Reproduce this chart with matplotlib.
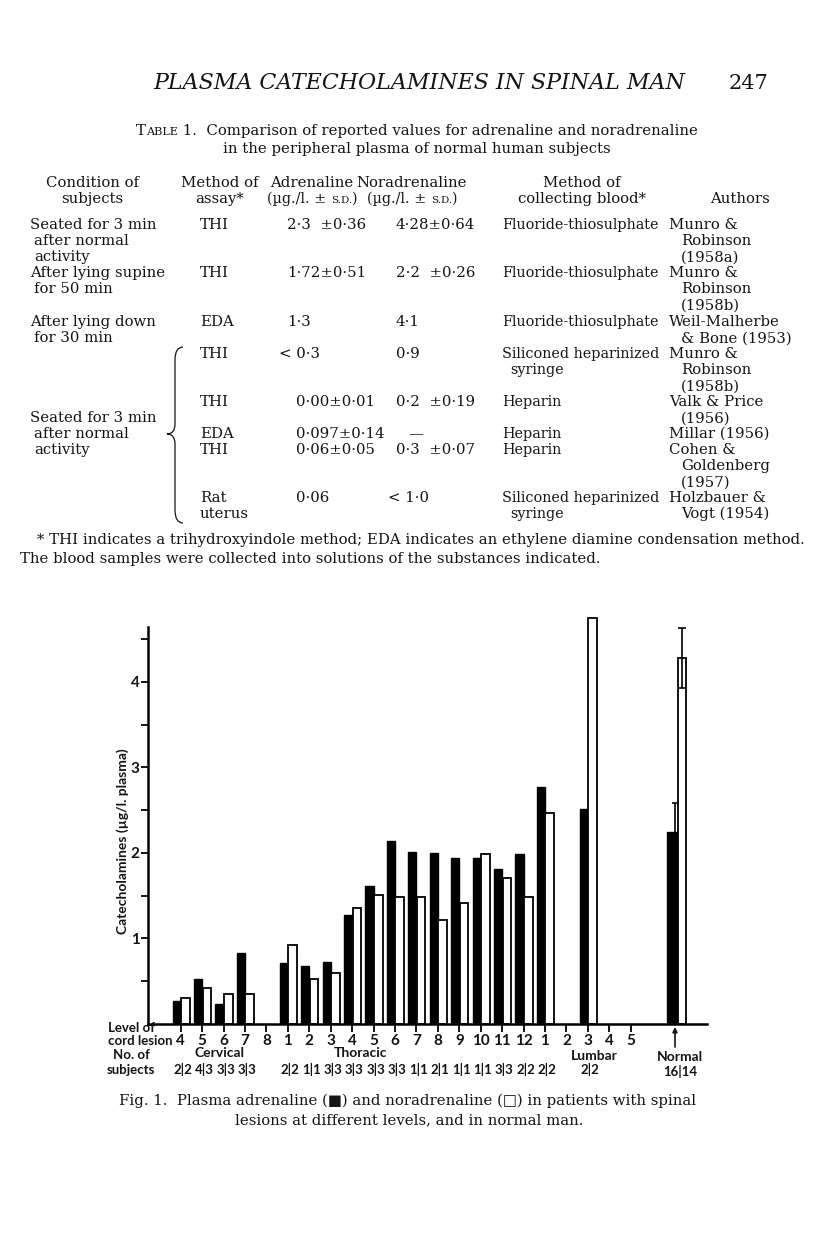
import numpy as np
import matplotlib
matplotlib.use('Agg')
import matplotlib.pyplot as plt
import matplotlib.transforms as mtransforms
from matplotlib.path import Path
from matplotlib.patches import PathPatch

# ---- Fig. 1 data (ug/l plasma) ----
level_labels = ['4', '5', '6', '7', '8',
                '1', '2', '3', '4', '5', '6', '7', '8', '9', '10', '11', '12',
                '1', '2', '3', '4', '5']
adrenaline = [0.27, 0.53, 0.23, 0.83, np.nan,
              0.71, 0.68, 0.72, 1.27, 1.61, 2.14, 2.01, 2.00, 1.94, 1.94, 1.81, 1.99,
              2.77, np.nan, 2.51, np.nan, np.nan]
noradrenaline = [0.30, 0.42, 0.35, 0.35, np.nan,
                 0.92, 0.53, 0.60, 1.35, 1.51, 1.49, 1.49, 1.22, 1.42, 1.99, 1.71, 1.48,
                 2.47, np.nan, 4.74, np.nan, np.nan]
subjects = ['2|2', '4|3', '3|3', '3|3', '',
            '2|2', '1|1', '3|3', '3|3', '3|3', '3|3', '1|1', '2|1', '1|1', '1|1', '3|3', '2|2',
            '2|2', '', '2|2', '', '']
group_names = ['Cervical', 'Thoracic', 'Lumbar']
group_pos = [1.8, 8.4, 19.3]
normal_pos = 23.07
normal_adr, normal_adr_sd = 2.24, 0.34
normal_nor, normal_nor_sd = 4.28, 0.35
normal_subjects = '16|14'

# ---- Table 1 ----
header_top = [('Condition of', 92), ('Method of', 220), ('Adrenaline', 312),
              ('Noradrenaline', 412), ('Method of', 582)]
header_bottom = [('subjects', 92), ('assay*', 220), ('units', 312), ('units', 412),
                 ('collecting blood*', 582), ('Authors', 740)]
conditions = ['Seated for 3 min\nafter normal\nactivity',
              'After lying supine\nfor 50 min',
              'After lying down\nfor 30 min']
grouped_condition = 'Seated for 3 min\nafter normal\nactivity'
methods = ['THI', 'THI', 'EDA', 'THI', 'THI', 'EDA', 'THI', 'Rat\nuterus']
adren_vals = ['2\u00b73  \u00b10\u00b736', '1\u00b772\u00b10\u00b751', '1\u00b73', '< 0\u00b73',
              '0\u00b700\u00b10\u00b701', '0\u00b7097\u00b10\u00b714', '0\u00b706\u00b10\u00b705', '0\u00b706']
noradren_vals = ['4\u00b728\u00b10\u00b764', '2\u00b72  \u00b10\u00b726', '4\u00b71', '0\u00b79',
                 '0\u00b72  \u00b10\u00b719', '\u2014', '0\u00b73  \u00b10\u00b707', '< 1\u00b70']
collecting = ['Fluoride-thiosulphate', 'Fluoride-thiosulphate', 'Fluoride-thiosulphate',
              'Siliconed heparinized\nsyringe', 'Heparin', 'Heparin', 'Heparin',
              'Siliconed heparinized\nsyringe']
authors = ['Munro &\nRobinson\n(1958a)', 'Munro &\nRobinson\n(1958b)',
           'Weil-Malherbe\n& Bone (1953)', 'Munro &\nRobinson\n(1958b)',
           'Valk & Price\n(1956)', 'Millar (1956)', 'Cohen &\nGoldenberg\n(1957)',
           'Holzbauer &\nVogt (1954)']

footnote = ['* THI indicates a trihydroxyindole method; EDA indicates an ethylene diamine condensation method.',
            'The blood samples were collected into solutions of the substances indicated.']
caption = ['Fig. 1.  Plasma adrenaline (\u25a0) and noradrenaline (\u25a1) in patients with spinal',
           'lesions at different levels, and in normal man.']

serif = ['DejaVu Serif', 'DejaVu Sans']
sans = ['Lato', 'DejaVu Sans']
ink = '#141414'

fig = plt.figure(figsize=(8.16, 12.48), dpi=100)
page = fig.add_axes([0, 0, 1, 1])
page.set_xlim(0, 816)
page.set_ylim(1248, 0)
page.axis('off')
renderer = fig.canvas.get_renderer()


def text_width(s, size, family, style='normal', weight='normal'):
    t = page.text(0, 0, s, fontsize=size, family=family, style=style, fontweight=weight)
    w = t.get_window_extent(renderer).width
    t.remove()
    return w


# base serif size fitted to the width of the footnote line
fs = 10 * 766 / text_width(footnote[0], 10, serif)
lh = 16.2


def put(x, y, s, size=None, ha='left', indent=0, **kw):
    for k, line in enumerate(s.split('\n')):
        page.text(x + (indent if k else 0), y + k * lh, line, fontsize=size or fs,
                  family=serif, ha=ha, va='baseline', color=ink, **kw)


def put_pieces(xc, y, pieces):
    # centred run of text pieces with different sizes (small caps)
    widths = [text_width(p, fs * k, serif) for p, k in pieces]
    x0 = xc - sum(widths) / 2
    for (p, k), w in zip(pieces, widths):
        page.text(x0, y, p, fontsize=fs * k, family=serif, va='baseline', color=ink)
        x0 += w


# running head
hs = 10 * 532 / text_width('PLASMA CATECHOLAMINES IN SPINAL MAN', 10, serif, style='italic')
page.text(419, 89, 'PLASMA CATECHOLAMINES IN SPINAL MAN', fontsize=hs, family=serif,
          style='italic', ha='center', va='baseline', color=ink)
page.text(749, 89, '247', fontsize=hs * 0.95, family=serif, ha='center', va='baseline', color=ink)

# table title with small caps "TABLE"
put_pieces(417, 135, [('T', 1.0), ('ABLE', 0.76),
                      (' 1.  Comparison of reported values for adrenaline and noradrenaline', 1.0)])
put(417, 153, 'in the peripheral plasma of normal human subjects', ha='center')

# column headings
for s, xc in header_top:
    put(xc, 187, s, ha='center')
for s, xc in header_bottom:
    if s == 'units':
        put_pieces(xc, 203, [('(\u00b5g./l. \u00b1 ', 0.97), ('S.D.', 0.7), (')', 0.97)])
    else:
        put(xc, 203, s, ha='center')

row_y = [229, 277, 326, 358, 406, 438, 454, 502]
adr_x = [287, 287, 287, 279, 296, 296, 296, 296]
nor_x = [396, 396, 396, 396, 396, 408, 396, 388]

for i in range(3):
    put(30, row_y[i], conditions[i], indent=4)
put(30, 422, grouped_condition, indent=4)
for i, y in enumerate(row_y):
    put(200, y, methods[i])
    put(adr_x[i], y, adren_vals[i])
    put(nor_x[i], y, noradren_vals[i])
    put(502, y, collecting[i], indent=8, size=fs * 0.97)
    put(669, y, authors[i], indent=12)

# curly brace for the grouped rows
verts = [(183, 347), (175, 347), (175, 360), (175, 424), (175, 434), (167, 434),
         (175, 434), (175, 444), (175, 510), (175, 523), (183, 523)]
codes = [Path.MOVETO, Path.CURVE3, Path.CURVE3, Path.LINETO, Path.CURVE3, Path.CURVE3,
         Path.CURVE3, Path.CURVE3, Path.LINETO, Path.CURVE3, Path.CURVE3]
page.add_patch(PathPatch(Path(verts, codes), fill=False, lw=0.9, color=ink))

put(37, 544, footnote[0])
put(20, 563, footnote[1])

# ---- chart ----
ax = fig.add_axes([148 / 816, 1 - 1024 / 1248, 558.7 / 816, 397 / 1248])
x = np.arange(len(level_labels))
adr = np.array(adrenaline)
nor = np.array(noradrenaline)
ok = ~np.isnan(adr)
ax.bar(x[ok] - 0.38, adr[ok], width=0.38, align='edge', color='black', edgecolor='black', lw=1)
ok = ~np.isnan(nor)
ax.bar(x[ok] + 0.02, nor[ok], width=0.40, align='edge', color='white', edgecolor='black',
       lw=1.3, clip_on=False)

ax.bar(normal_pos - 0.36, normal_adr, width=0.45, align='edge', color='black', edgecolor='black', lw=1)
ax.errorbar(normal_pos - 0.0, normal_adr, yerr=normal_adr_sd, fmt='none', ecolor='black',
            elinewidth=1.2, capsize=2.5, capthick=1.2)
ax.bar(normal_pos + 0.14, normal_nor, width=0.38, align='edge', color='white', edgecolor='black', lw=1.3)
ax.errorbar(normal_pos + 0.33, normal_nor, yerr=normal_nor_sd, fmt='none', ecolor='black',
            elinewidth=1.2, capsize=3, capthick=1.2, clip_on=False)

tick_font = dict(family=sans, fontweight='bold', color=ink, fontsize=11)
ax.set_xlim(-1.53, 24.55)
ax.set_ylim(0, 4.64)
ax.spines[['top', 'right']].set_visible(False)
for side in ['left', 'bottom']:
    ax.spines[side].set_linewidth(1.8)
ax.set_xticks(x, level_labels, **tick_font)
ax.set_yticks([1, 2, 3, 4], ['1', '2', '3', '4'], **tick_font)
ax.set_yticks(np.arange(0.5, 4.6, 1.0), minor=True)
ax.tick_params(axis='x', direction='out', length=6, width=1.3, pad=1)
ax.tick_params(axis='y', which='both', direction='out', length=5, width=1.3, pad=1)
ax.patch.set_alpha(0)

trans = mtransforms.blended_transform_factory(ax.transData, page.transData)
sans_kw = dict(family=sans, fontweight='bold', color=ink, ha='center', va='center', fontsize=10)
for name, gx in zip(group_names, group_pos):
    page.text(gx, 1053 if name != 'Lumbar' else 1056, name, transform=trans, **sans_kw)
page.text(23.3, 1057, 'Normal', transform=trans, **sans_kw)
count_kw = dict(sans_kw, fontsize=9.5)
for xi, s in zip(x, subjects):
    if s:
        page.text(xi + 0.1, 1070, s, transform=trans, **count_kw)
page.text(23.3, 1071, normal_subjects, transform=trans, **count_kw)
page.annotate('', xy=(normal_pos, 1027), xytext=(normal_pos, 1047), xycoords=trans, textcoords=trans,
              arrowprops=dict(arrowstyle='-|>', color=ink, lw=1.2, mutation_scale=7, shrinkA=0, shrinkB=0))

lab_kw = dict(sans_kw, fontsize=9.5)
page.text(131, 1028, 'Level of', **lab_kw)
page.text(172, 1041, 'cord lesion', **dict(lab_kw, ha='right'))
page.text(131, 1055, 'No. of', **lab_kw)
page.text(131, 1070, 'subjects', **lab_kw)
page.text(123, 841, 'Catecholamines (\u00b5g/l. plasma)', rotation=90, **dict(sans_kw, fontsize=10))

put(408, 1105, caption[0], ha='center')
put(409, 1124, caption[1], ha='center')

fig.savefig('out.png', dpi=100, facecolor='white')
